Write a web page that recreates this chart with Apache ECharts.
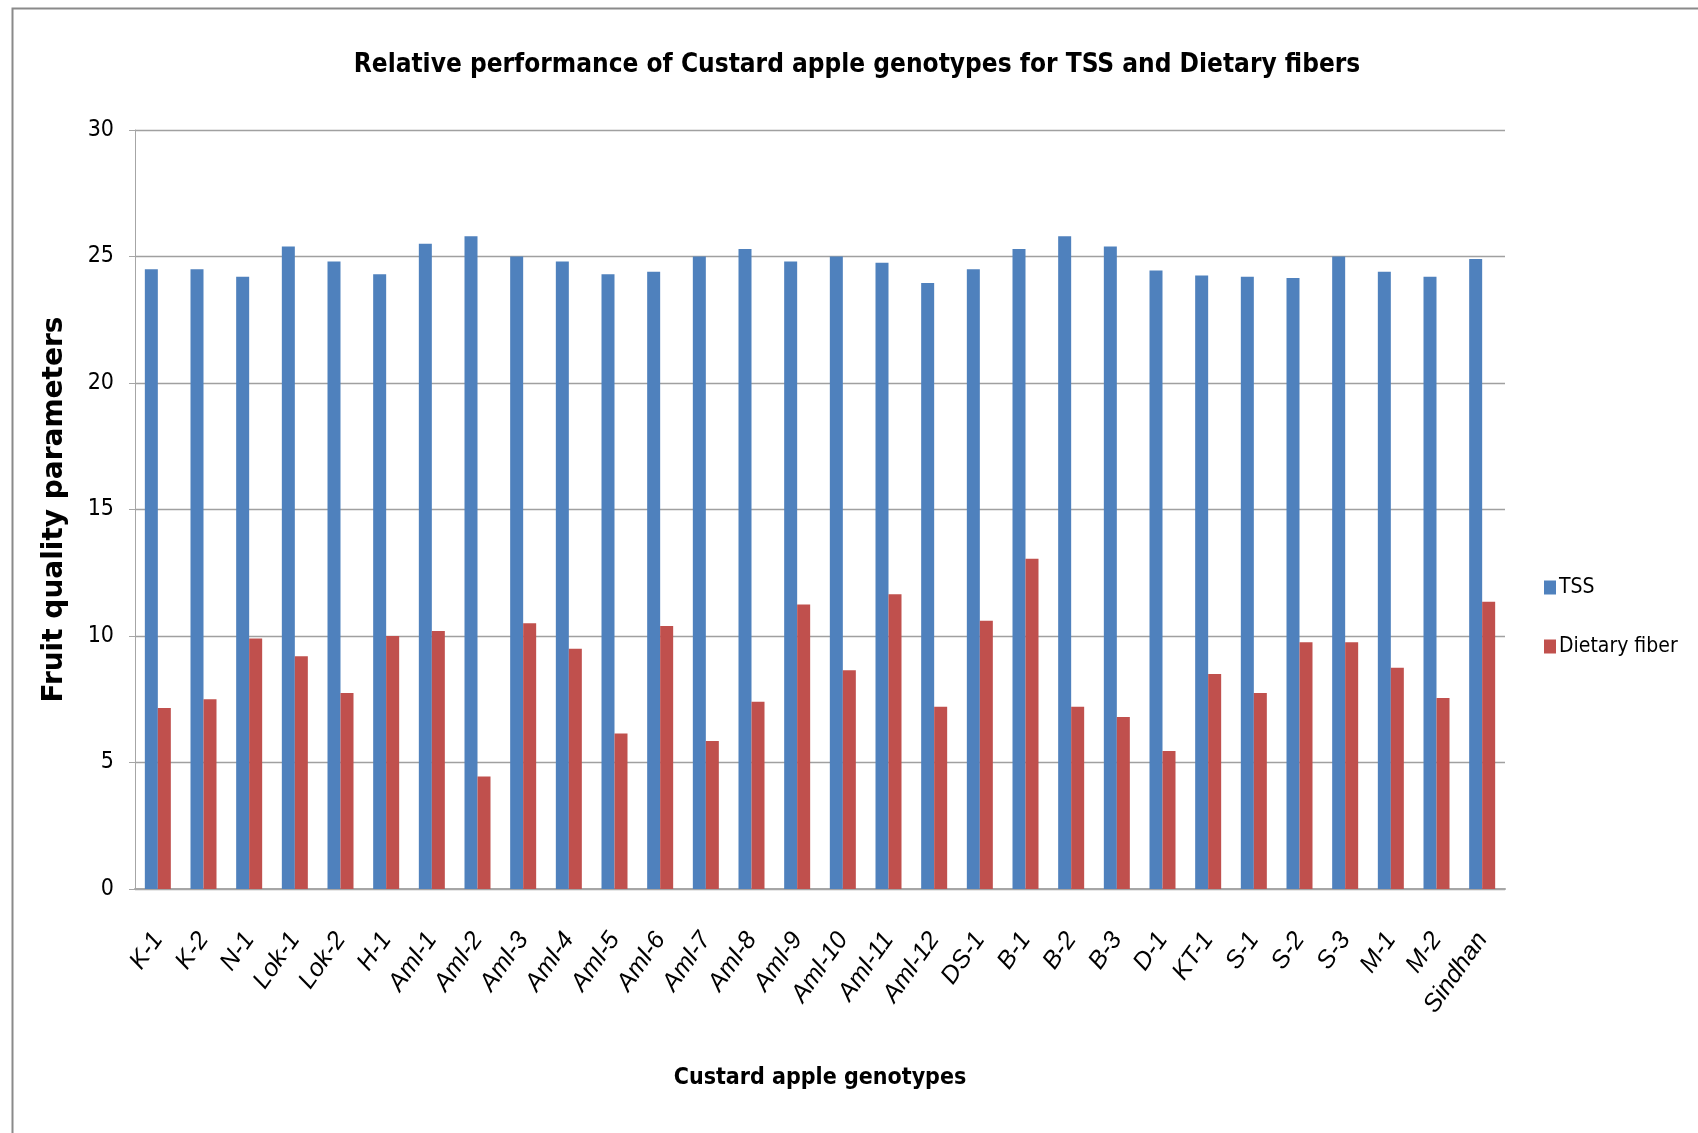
<!DOCTYPE html>
<html>
<head>
<meta charset="utf-8">
<script src="https://cdn.jsdelivr.net/npm/echarts@6/dist/echarts.min.js"></script>
<style>
html, body { margin: 0; padding: 0; background: #fff; }
#chart { width: 1698px; height: 1133px; }
</style>
</head>
<body>
<div id="chart"></div>
<script>
var genotypes = ['K-1', 'K-2', 'N-1', 'Lok-1', 'Lok-2', 'H-1', 'Aml-1', 'Aml-2', 'Aml-3', 'Aml-4',
	'Aml-5', 'Aml-6', 'Aml-7', 'Aml-8', 'Aml-9', 'Aml-10', 'Aml-11', 'Aml-12', 'DS-1', 'B-1',
	'B-2', 'B-3', 'D-1', 'KT-1', 'S-1', 'S-2', 'S-3', 'M-1', 'M-2', 'Sindhan'];
var tss = [24.5, 24.5, 24.2, 25.4, 24.8, 24.3, 25.5, 25.8, 25.0, 24.8,
	24.3, 24.4, 25.0, 25.3, 24.8, 25.0, 24.75, 23.95, 24.5, 25.3,
	25.8, 25.4, 24.45, 24.25, 24.2, 24.15, 25.0, 24.4, 24.2, 24.9];
var fiber = [7.15, 7.5, 9.9, 9.2, 7.75, 10.0, 10.2, 4.45, 10.5, 9.5,
	6.15, 10.4, 5.85, 7.4, 11.25, 8.65, 11.65, 7.2, 10.6, 13.05,
	7.2, 6.8, 5.45, 8.5, 7.75, 9.75, 9.75, 8.75, 7.55, 11.35];
var yTicks = { min: 0, max: 30, interval: 5 };

var NARROW = "'Liberation Sans Narrow', 'DejaVu Sans Condensed', 'Roboto', sans-serif";
var chart = echarts.init(document.getElementById('chart'));
var option = {
	backgroundColor: '#fff',
	animation: false,
	graphic: [{
		type: 'rect',
		left: 10,
		top: 6,
		shape: { width: 1720, height: 1160 },
		style: { fill: 'none', stroke: '#8a8a8a', lineWidth: 2 },
		silent: true
	}],
	title: {
		text: 'Relative performance of Custard apple genotypes for TSS and Dietary fibers',
		left: 852,
		top: 47,
		textAlign: 'center',
		textStyle: { fontFamily: NARROW, fontSize: 26, fontWeight: 'bold', color: '#000' }
	},
	legend: {
		orient: 'vertical',
		left: 1539,
		top: 572,
		itemWidth: 12,
		itemHeight: 14,
		itemGap: 38,
		icon: 'rect',
		textStyle: { fontFamily: NARROW, fontSize: 21, color: '#000', padding: [0, 0, 0, -2] },
		data: ['TSS', 'Dietary fiber']
	},
	grid: { left: 135, right: 193, top: 130, bottom: 244, containLabel: false },
	xAxis: {
		type: 'category',
		data: genotypes,
		name: 'Custard apple genotypes',
		nameLocation: 'middle',
		nameGap: 178,
		nameTextStyle: { fontFamily: NARROW, fontSize: 23, fontWeight: 'bold', color: '#000' },
		axisLine: { lineStyle: { color: '#a6a6a6', width: 2 } },
		axisTick: { show: false },
		axisLabel: {
			rotate: 55,
			margin: 46,
			interval: 0,
			fontFamily: "'Liberation Sans', sans-serif",
			fontStyle: 'italic',
			fontSize: 25,
			color: '#000'
		}
	},
	yAxis: {
		type: 'value',
		min: yTicks.min,
		max: yTicks.max,
		interval: yTicks.interval,
		name: 'Fruit quality parameters',
		nameLocation: 'middle',
		nameGap: 66,
		nameTextStyle: { fontFamily: "'DejaVu Sans', sans-serif", fontSize: 28, fontWeight: 'bold', color: '#000' },
		axisLine: { show: true, lineStyle: { color: '#a6a6a6', width: 1 } },
		axisTick: { show: true, length: 6, lineStyle: { color: '#a6a6a6' } },
		axisLabel: { margin: 21, fontFamily: NARROW, fontSize: 23, color: '#000' },
		splitLine: { lineStyle: { color: '#a0a0a0', width: 1.3 } }
	},
	series: [{
		name: 'TSS',
		type: 'bar',
		data: tss,
		barWidth: 13,
		barGap: '0%',
		itemStyle: { color: '#4F81BD' }
	}, {
		name: 'Dietary fiber',
		type: 'bar',
		data: fiber,
		barWidth: 13,
		itemStyle: { color: '#C0504D' }
	}]
};
chart.setOption(option);
</script>
</body>
</html>
